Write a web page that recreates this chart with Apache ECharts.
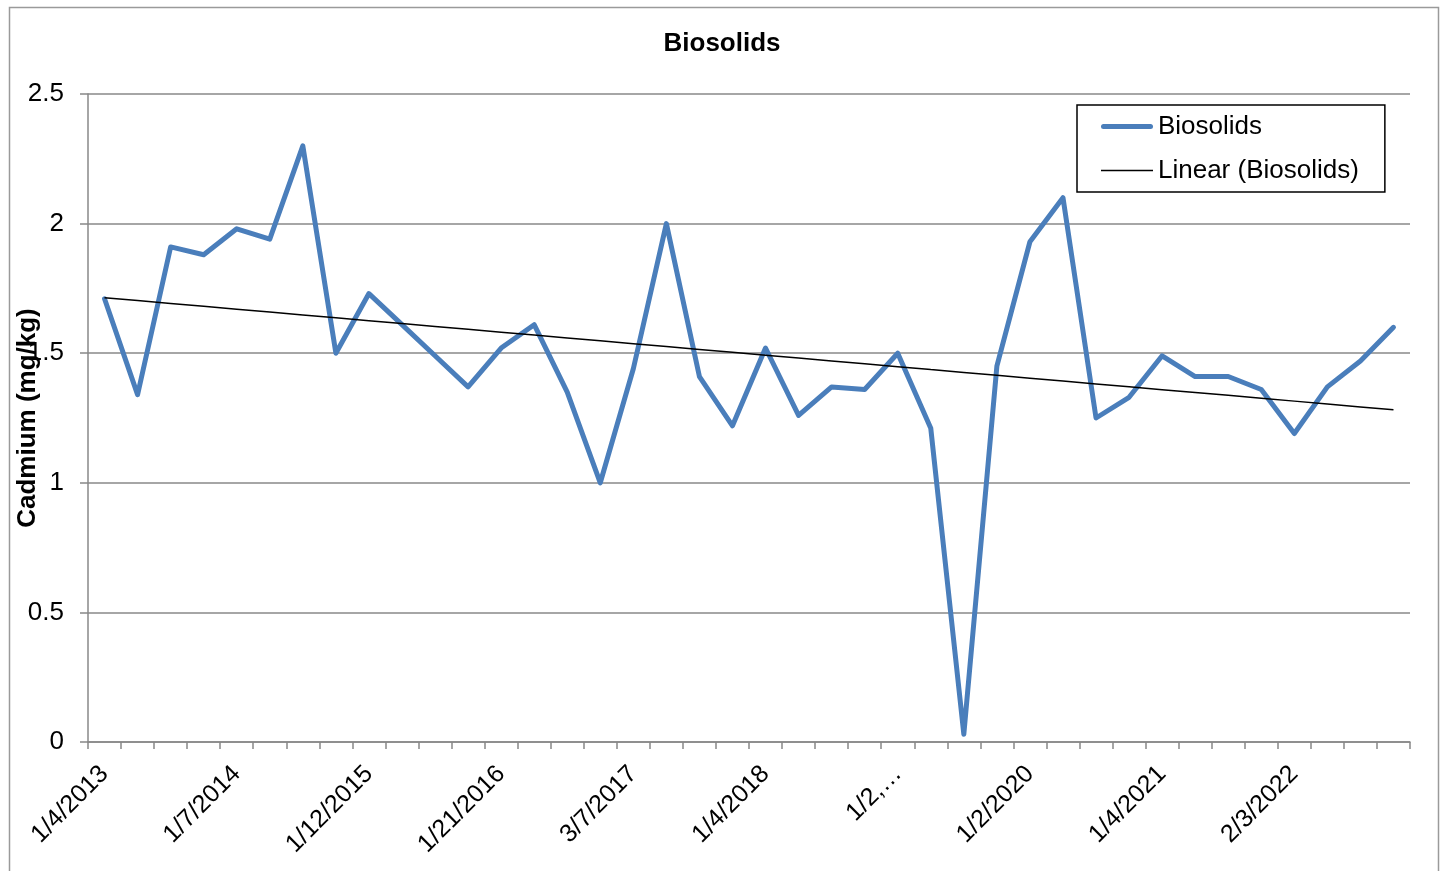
<!DOCTYPE html>
<html>
<head>
<meta charset="utf-8">
<script src="https://cdn.jsdelivr.net/npm/echarts@6/dist/echarts.min.js"></script>
<style>
html,body{margin:0;padding:0;background:#fff;}
#chart{width:1444px;height:871px;}
</style>
</head>
<body>
<div id="chart"></div>
<script>
// Category labels (only every 4th is shown on the axis; others unreadable)
const categories = [
  '1/4/2013','','','',
  '1/7/2014','','','',
  '1/12/2015','','','',
  '1/21/2016','','','',
  '3/7/2017','','','',
  '1/4/2018','','','',
  '1/2,…','','','',
  '1/2/2020','','','',
  '1/4/2021','','','',
  '2/3/2022','','',''
];
// Cadmium values (mg/kg)
const biosolids = [
  1.71, 1.34, 1.91, 1.88, 1.98, 1.94, 2.30, 1.50, 1.73, 1.61,
  1.49, 1.37, 1.52, 1.61, 1.35, 1.00, 1.44, 2.00, 1.41, 1.22,
  1.52, 1.26, 1.37, 1.36, 1.50, 1.21, 0.03, 1.45, 1.93, 2.10,
  1.25, 1.33, 1.49, 1.41, 1.41, 1.36, 1.19, 1.37, 1.47, 1.60
];
const yTicks = [0, 0.5, 1, 1.5, 2, 2.5];

// Linear trendline (least squares over the category index), as Excel does
function linearTrend(vals) {
  const n = vals.length;
  let sx = 0, sy = 0, sxy = 0, sxx = 0;
  vals.forEach((v, i) => { sx += i; sy += v; sxy += i * v; sxx += i * i; });
  const b = (n * sxy - sx * sy) / (n * sxx - sx * sx);
  const a = (sy - b * sx) / n;
  return vals.map((_, i) => +(a + b * i).toFixed(4));
}
const trend = linearTrend(biosolids);

const FONT = '"Liberation Sans", Arial, sans-serif';
const chart = echarts.init(document.getElementById('chart'), null, {renderer: 'canvas'});
chart.setOption({
  animation: false,
  backgroundColor: '#fff',
  textStyle: {fontFamily: FONT},
  graphic: [{
    type: 'rect', left: 7, top: 5, z: -10,
    shape: {width: 1429, height: 880},
    style: {fill: 'none', stroke: '#9a9a9a', lineWidth: 1.5}
  }],
  title: {
    text: 'Biosolids', left: 'center', top: 26,
    textStyle: {fontFamily: FONT, fontWeight: 'bold', fontSize: 26, color: '#000'}
  },
  legend: {
    orient: 'vertical', left: 1077, top: 105,
    padding: [7, 26, 7, 24],
    itemGap: 15, itemWidth: 52, itemHeight: 14,
    borderColor: '#000', borderWidth: 1.5,
    textStyle: {fontFamily: FONT, fontSize: 26, color: '#000', lineHeight: 29},
    data: [
      {name: 'Biosolids', icon: 'path://M2.5,0 L49.5,0 A2.5,2.5 0 0 1 49.5,5 L2.5,5 A2.5,2.5 0 0 1 2.5,0 Z'},
      {name: 'Linear (Biosolids)', icon: 'path://M0,0 L52,0 L52,1.5 L0,1.5 Z'}
    ]
  },
  grid: {left: 88, right: 34, top: 94, bottom: 129, containLabel: false, outerBoundsMode: 'none'},
  xAxis: {
    type: 'category', data: categories, boundaryGap: true,
    axisLine: {show: true, lineStyle: {color: '#888', width: 1.5}},
    axisTick: {show: true, interval: 0, length: 7, lineStyle: {color: '#888', width: 1.5}},
    axisLabel: {interval: 3, rotate: 45, fontSize: 25, color: '#000', margin: 28, fontFamily: FONT},
    splitLine: {show: false}
  },
  yAxis: {
    type: 'value', min: yTicks[0], max: yTicks[yTicks.length - 1], interval: 0.5,
    name: 'Cadmium (mg/kg)', nameLocation: 'middle', nameGap: 47, nameMoveOverlap: false,
    nameTextStyle: {fontFamily: FONT, fontWeight: 'bold', fontSize: 26, color: '#000', backgroundColor: '#fff'},
    axisLine: {show: true, lineStyle: {color: '#888', width: 1.5}},
    axisTick: {show: true, length: 8, lineStyle: {color: '#888', width: 1.5}},
    axisLabel: {fontSize: 26, color: '#000', margin: 24, fontFamily: FONT},
    splitLine: {show: true, lineStyle: {color: '#888', width: 1.5}}
  },
  series: [
    {
      name: 'Biosolids', type: 'line', data: biosolids,
      symbol: 'none', showSymbol: false,
      lineStyle: {color: '#4a7ebb', width: 5, cap: 'round', join: 'round'},
      itemStyle: {color: '#4a7ebb'},
      z: 3
    },
    {
      name: 'Linear (Biosolids)', type: 'line', data: trend,
      symbol: 'none', showSymbol: false,
      lineStyle: {color: '#000', width: 1.5},
      itemStyle: {color: '#000'},
      z: 4
    }
  ]
});
</script>
</body>
</html>
